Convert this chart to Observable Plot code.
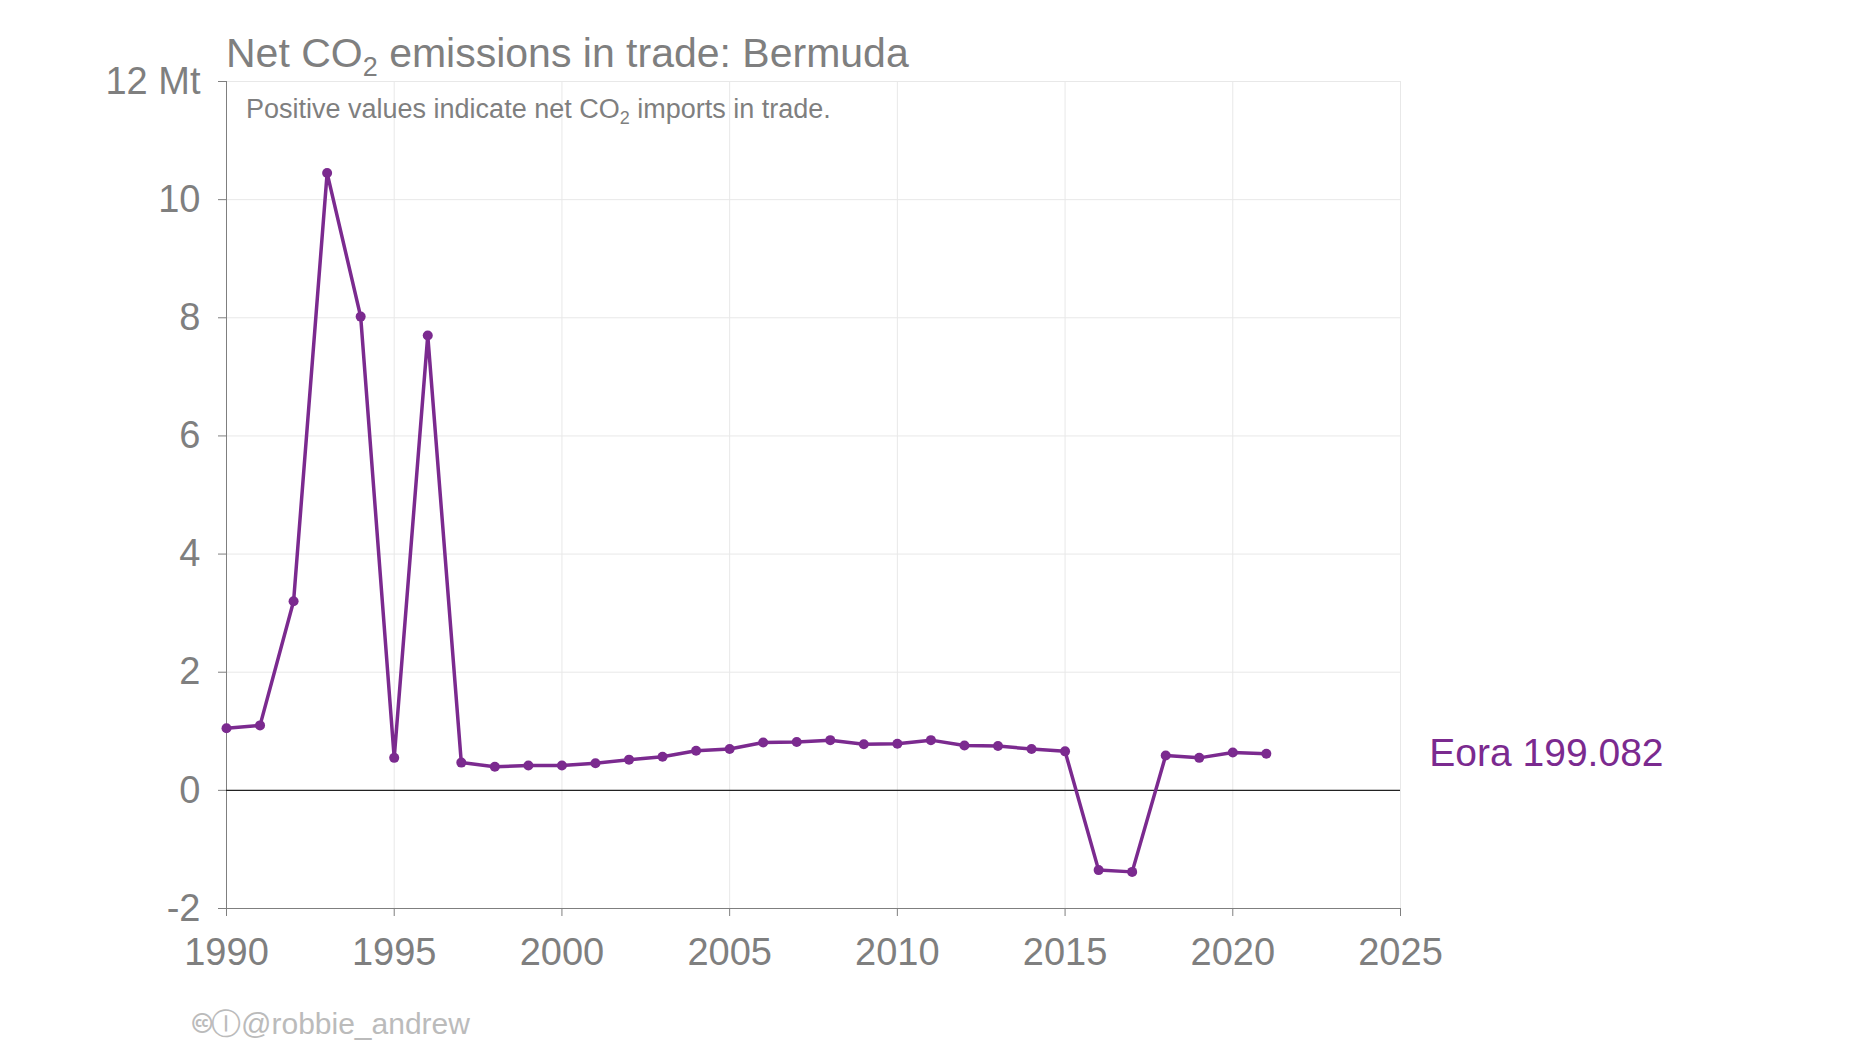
<!DOCTYPE html>
<html>
<head>
<script src="https://cdn.jsdelivr.net/npm/d3@7"></script>
<script src="https://cdn.jsdelivr.net/npm/@observablehq/plot@0.6"></script>
<style>
  body { margin: 0; background: #fff; font-family: "Liberation Sans", Arial, sans-serif; }
  #wrap { position: relative; width: 1852px; height: 1042px; }
  .t { position: absolute; white-space: nowrap; }
</style>
</head>
<body>
<div id="wrap">
  <div id="chart"></div>
  <div class="t" style="left:226px;top:30px;font-size:41px;color:#7f7f7f">Net CO<sub style="font-size:27px">2</sub> emissions in trade: Bermuda</div>
  <div class="t" style="left:246px;top:94px;font-size:27px;color:#7f7f7f">Positive values indicate net CO<sub style="font-size:18px">2</sub> imports in trade.</div>
  <div class="t" style="left:193px;top:1004px;font-size:30px;color:#bbbbbb">&#x1F16D;&#x24BE;@robbie_andrew</div>
</div>
<script>
  // years and net emissions (Mt CO2), Eora 199.082
  const years = d3.range(1990, 2022);
  const values = [1.05, 1.10, 3.20, 10.45, 8.02, 0.55, 7.70, 0.47, 0.40, 0.42,
                  0.42, 0.46, 0.52, 0.57, 0.67, 0.70, 0.81, 0.82, 0.85, 0.78,
                  0.79, 0.85, 0.76, 0.75, 0.70, 0.66, -1.35, -1.38, 0.59, 0.55,
                  0.64, 0.62];
  const seriesName = "Eora 199.082";
  const yTicks = [-2, 0, 2, 4, 6, 8, 10, 12];
  const xTicks = [1990, 1995, 2000, 2005, 2010, 2015, 2020, 2025];

  const data = years.map((y, i) => ({year: y, value: values[i]}));
  const purple = "#7b2a8f";
  const grey = "#7f7f7f";

  const chart = Plot.plot({
    width: 1852,
    height: 1042,
    marginLeft: 226,
    marginRight: 452,
    marginTop: 81,
    marginBottom: 134,
    style: {fontFamily: "Liberation Sans, Arial, sans-serif", fontSize: "38px", color: grey, background: "white"},
    x: {domain: [1990, 2025]},
    y: {domain: [-2, 12]},
    marks: [
      Plot.gridX(xTicks, {stroke: "#e8e8e8", strokeOpacity: 1}),
      Plot.gridY(yTicks, {stroke: "#e8e8e8", strokeOpacity: 1}),
      Plot.axisX({ticks: xTicks, tickFormat: d => String(d), tickSize: 8, tickPadding: 22, stroke: grey, fill: grey, fontSize: 38, label: null}),
      Plot.axisY({ticks: yTicks, tickFormat: d => d === 12 ? "12 Mt" : String(d), tickSize: 8, tickPadding: 18, stroke: grey, fill: grey, fontSize: 38, label: null}),
      Plot.ruleX([1990], {stroke: grey}),
      Plot.ruleY([-2], {stroke: grey}),
      Plot.ruleY([0], {stroke: "#222", strokeWidth: 1.3}),
      Plot.line(data, {x: "year", y: "value", stroke: purple, strokeWidth: 3.5}),
      Plot.dot(data, {x: "year", y: "value", fill: purple, r: 5}),
      Plot.text([data[data.length - 1]], {x: () => 2021, y: "value", text: () => seriesName, dx: 163, textAnchor: "start", fill: purple, fontSize: 39})
    ]
  });
  document.getElementById("chart").appendChild(chart);
</script>
</body>
</html>
